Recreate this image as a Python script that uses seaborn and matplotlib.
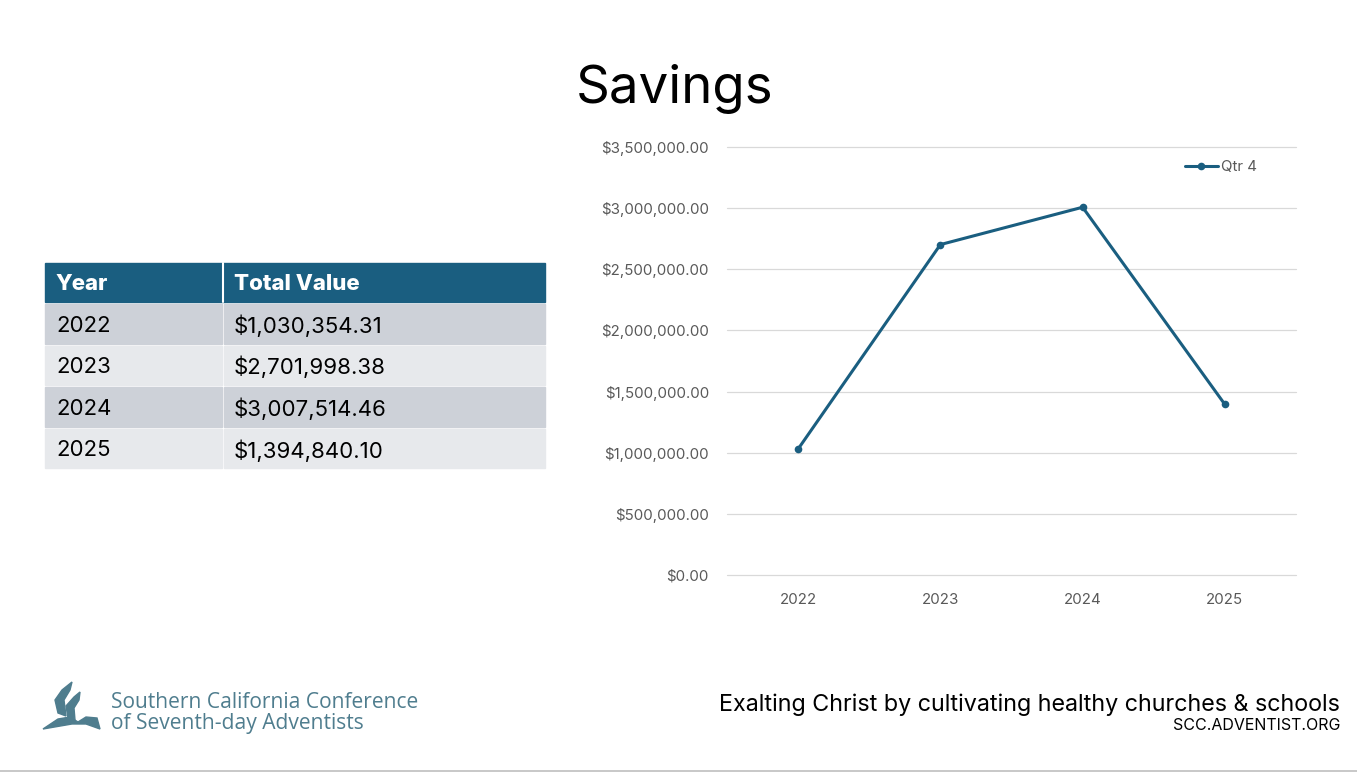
import pandas as pd
import matplotlib.pyplot as plt
import seaborn as sns
from matplotlib.patches import Rectangle, Polygon

# Dati del grafico
years = ["2022", "2023", "2024", "2025"]
savings = [1030354.31, 2701998.38, 3007514.46, 1394840.10]
y_ticks = [0, 500000, 1000000, 1500000, 2000000, 2500000, 3000000, 3500000]
series_name = "Qtr 4"

blue = "#1A5E80"
df = pd.DataFrame({"Year": years, "Value": savings})

sns.set_theme(style="white")
plt.rcParams["font.family"] = ["Inter", "DejaVu Sans"]

fig = plt.figure(figsize=(13.57, 7.74), dpi=100)

# livello di sfondo in coordinate pixel
bg = fig.add_axes([0, 0, 1, 1])
bg.set_xlim(0, 1357)
bg.set_ylim(774, 0)
bg.axis("off")

# grafico a linee
ax = fig.add_axes([727 / 1357, 1 - 575 / 774, (1296 - 727) / 1357, (575 - 147) / 774])
sns.lineplot(data=df, x="Year", y="Value", ax=ax, color=blue, linewidth=2.2,
             marker="o", markersize=5.5, markeredgewidth=0, label=series_name)
ax.set_xlim(-0.5, 3.5)
ax.set_ylim(0, 3500000)
ax.set_yticks(y_ticks)
ax.set_yticklabels([f"${v:,.2f}" for v in y_ticks])
ax.set_xlabel("")
ax.set_ylabel("")
ax.grid(axis="y", color="#D9D9D9", linewidth=0.9)
ax.grid(axis="x", visible=False)
for gl in ax.get_ygridlines():
    gl.set_clip_on(False)
for s in ax.spines.values():
    s.set_visible(False)
ax.tick_params(axis="y", length=0, pad=13, labelsize=10.8, labelcolor="#595959")
ax.tick_params(axis="x", length=0, pad=13, labelsize=10.8, labelcolor="#595959")
ax.set_facecolor("none")
leg = ax.legend(loc="upper right", bbox_to_anchor=(0.955, 1.0), frameon=False,
                fontsize=10.8, handlelength=2.2, handletextpad=0.2)
for t in leg.get_texts():
    t.set_color("#595959")

# titolo
bg.text(675, 89, "Savings", ha="center", va="center", fontsize=38, color="black")

# tabella
cols = ["Year", "Total Value"]
x0, x1, x2 = 45, 223, 545
bg.add_patch(Rectangle((x0, 263), x2 - x0, 39, color=blue))
bg.plot([x1, x1], [263, 302], color="white", linewidth=1.5)
bg.text(x0 + 11, 284, cols[0], ha="left", va="center", fontsize=16, color="white", fontweight="heavy")
bg.text(x1 + 11, 284, cols[1], ha="left", va="center", fontsize=16, color="white", fontweight="heavy")
row_top = 304
row_h = 41.5
for i, (yr, val) in enumerate(zip(years, savings)):
    top = row_top + i * row_h
    c = "#CDD1D8" if i % 2 == 0 else "#E7E9EC"
    bg.add_patch(Rectangle((x0, top), x1 - x0 - 1, row_h - 2, color=c))
    bg.add_patch(Rectangle((x1 + 1, top), x2 - x1 - 1, row_h - 2, color=c))
    bg.text(x0 + 11, top + row_h / 2 + 1, yr, ha="left", va="center", fontsize=16, color="black")
    bg.text(x1 + 11, top + row_h / 2 + 1, f"${val:,.2f}", ha="left", va="center", fontsize=16, color="black")

# logo
logo_c = "#4F7D8E"
bg.add_patch(Polygon([(43, 729), (58, 719), (70, 717), (78, 722), (86, 717), (97, 718), (100, 729),
                      (86, 724), (72, 724)], closed=True, color=logo_c))
bg.add_patch(Polygon([(58, 713), (55, 700), (62, 690), (72, 682), (70, 690), (64, 700), (66, 716)],
                     closed=True, color=logo_c))
bg.add_patch(Polygon([(68, 718), (66, 706), (74, 697), (80, 692), (79, 700), (74, 708), (75, 720)],
                     closed=True, color=logo_c))
bg.text(111, 702, "Southern California Conference", ha="left", va="center", fontsize=15.1,
        color=logo_c, family=["Open Sans", "DejaVu Sans"])
bg.text(111, 724, "of Seventh-day Adventists", ha="left", va="center", fontsize=15.1,
        color=logo_c, family=["Open Sans", "DejaVu Sans"])

# piè di pagina
bg.text(1340, 705, "Exalting Christ by cultivating healthy churches & schools", ha="right",
        va="center", fontsize=16.8, color="black")
bg.text(1340, 725, "SCC.ADVENTIST.ORG", ha="right", va="center", fontsize=11.5, color="black")
bg.plot([0, 1357], [771, 771], color="#BFBFBF", linewidth=1.2)

fig.savefig("out.png", dpi=100)
plt.close(fig)
